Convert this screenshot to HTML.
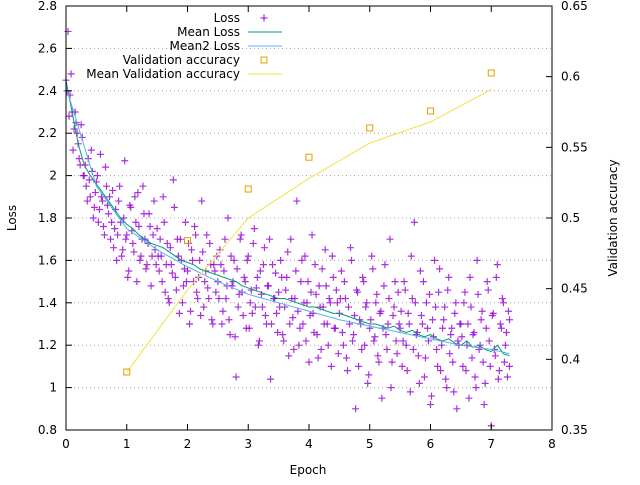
<!DOCTYPE html>
<html><head><meta charset="utf-8"><style>
body{margin:0;background:#fff}
svg text{font-family:"DejaVu Sans","Liberation Sans",sans-serif;font-size:12px;fill:#000}
</style></head><body>
<svg id="chart" width="640" height="480" xmlns="http://www.w3.org/2000/svg">
<g id="grid"></g>
<g id="series"></g>
<g id="axes"></g>
<text x="308" y="474" text-anchor="middle">Epoch</text>
<text transform="translate(16,218) rotate(-90)" text-anchor="middle">Loss</text>
<text transform="translate(617,218) rotate(-90)" text-anchor="middle">Validation accuracy</text>
<g id="legend"></g>
</svg>
<script>
const lossVals=[2.45,2.68,2.38,2.3,2.22,2.25,2.15,2.05,2.18,
2.0,1.95,2.08,1.9,2.02,1.85,1.97,1.78,2.1,1.88,1.72,1.95,
1.82,1.7,1.93,1.75,1.6,1.88,1.78,1.65,2.07,1.72,1.55,1.85,1.68,1.9,1.5,1.76,1.62,1.95,1.7,1.58,1.82,1.48,1.72,1.65,
1.75,1.55,1.62,1.9,1.45,1.68,1.4,1.58,1.98,1.52,1.7,1.35,1.6,1.48,1.78,1.55,1.3,1.65,1.5,1.72,1.42,1.6,1.88,1.38,1.55,1.47,1.68,1.32,1.58,1.45,
1.5,1.65,1.3,1.55,1.42,1.8,1.25,1.48,1.6,1.05,1.38,1.7,1.45,1.52,1.28,1.62,1.4,1.35,1.75,1.47,1.2,1.55,1.38,1.66,1.3,1.48,1.04,1.58,1.42,1.35,
1.45,1.6,1.25,1.38,1.52,1.15,1.7,1.33,1.42,1.88,1.2,1.5,1.3,1.62,1.4,1.12,1.45,1.35,1.58,1.25,1.48,1.18,1.38,1.65,1.3,1.42,1.1,1.52,1.28,1.4,
1.35,1.55,1.2,1.42,1.08,1.3,1.6,1.25,0.9,1.45,1.32,1.18,1.5,1.38,1.02,1.28,1.62,1.22,1.4,1.15,1.35,0.95,1.48,1.25,1.3,1.7,1.12,1.38,1.22,1.45,
1.28,1.1,1.5,1.2,1.35,0.98,1.42,1.78,1.25,1.15,1.55,1.3,1.05,1.4,1.22,0.92,1.32,1.6,1.18,1.45,1.08,1.28,1.38,1.0,1.52,1.25,1.12,1.35,0.9,1.2,
1.3,1.1,1.45,1.2,0.95,1.38,1.25,1.05,1.6,1.18,1.32,1.12,1.02,1.5,1.22,0.82,1.35,1.15,1.58,1.08,1.28,1.4,1.2,1.05,1.32];
const lossVals2=[2.4,2.28,2.48,2.12,2.3,2.2,2.08,2.24,2.0,
2.05,1.88,1.98,2.12,1.8,1.92,2.0,1.84,1.9,1.76,2.04,1.86,
1.9,1.78,1.66,1.84,1.72,1.95,1.62,1.8,1.7,1.52,1.86,1.74,1.64,1.78,1.92,1.6,1.7,1.82,1.56,1.68,1.76,1.62,1.88,1.58,
1.62,1.7,1.5,1.78,1.58,1.42,1.66,1.54,1.85,1.46,1.62,1.7,1.4,1.56,1.5,1.68,1.36,1.6,1.76,1.45,1.52,1.34,1.64,1.5,1.72,1.42,1.58,1.3,1.55,1.62,
1.42,1.58,1.36,1.7,1.48,1.32,1.62,1.5,1.24,1.56,1.44,1.72,1.34,1.5,1.6,1.28,1.46,1.68,1.38,1.52,1.22,1.44,1.58,1.34,1.48,1.7,1.3,1.42,1.54,1.26,
1.38,1.52,1.22,1.46,1.64,1.3,1.42,1.18,1.55,1.36,1.28,1.6,1.4,1.22,1.5,1.34,1.72,1.26,1.44,1.14,1.38,1.56,1.3,1.48,1.2,1.4,1.62,1.28,1.46,1.16,
1.42,1.26,1.5,1.14,1.38,1.66,1.22,1.34,1.46,1.1,1.3,1.52,1.2,1.4,1.06,1.32,1.56,1.24,1.44,1.12,1.36,1.28,1.58,1.18,1.42,1.0,1.34,1.5,1.16,1.3,
1.36,1.22,1.46,1.08,1.3,1.62,1.18,1.4,1.26,1.02,1.34,1.5,1.14,1.28,1.44,0.96,1.24,1.38,1.1,1.56,1.2,1.32,1.04,1.46,1.16,1.28,0.98,1.4,1.22,1.3,
1.24,1.4,1.08,1.3,1.52,1.14,1.26,1.0,1.44,1.2,1.36,0.92,1.28,1.46,1.1,1.34,1.18,1.52,1.04,1.3,1.42,1.12,1.26,1.36,1.1];
const meanLoss=[2.45,2.3,2.15,2.05,2.0,1.96,1.92,1.88,1.84,1.8,1.77,1.75,1.72,1.7,1.68,1.67,1.66,1.64,1.62,1.6,1.59,1.58,1.56,1.55,1.54,1.53,1.52,1.51,1.5,1.48,1.47,1.46,1.45,1.44,1.43,1.42,1.42,1.41,1.4,1.39,1.38,1.38,1.37,1.36,1.35,1.35,1.34,1.33,1.32,1.31,1.3,1.3,1.29,1.28,1.29,1.27,1.26,1.27,1.25,1.24,1.25,1.23,1.22,1.23,1.21,1.2,1.22,1.19,1.2,1.18,1.17,1.2,1.16,1.15];
const mean2Epochs=[0,0.5,1,1.5,2,2.5,3,3.5,4,4.5,5,5.5,6,6.5,7,7.3];
const mean2Loss=[2.42,1.95,1.75,1.65,1.57,1.5,1.44,1.4,1.36,1.32,1.29,1.26,1.23,1.2,1.18,1.16];
const valEpochs=[1,2,3,4,5,6,7];
const valAcc=[0.391,0.484,0.5205,0.543,0.5637,0.5757,0.6026];
const meanValAcc=[0.391,0.449,0.5,0.528,0.553,0.568,0.591];
const xTicks=[0,1,2,3,4,5,6,7,8];
const yTicks=[0.8,1,1.2,1.4,1.6,1.8,2,2.2,2.4,2.6,2.8];
const y2Ticks=[0.35,0.4,0.45,0.5,0.55,0.6,0.65];
const maxEpoch=7.3;

const L=66,R=552,T=6,B=430;
const X=v=>L+(v-0)/8*(R-L);
const Y=v=>B-(v-0.8)/2*(B-T);
const Y2=v=>B-(v-0.35)/0.3*(B-T);
const NS="http://www.w3.org/2000/svg";
function mk(tag,parent,attrs){const e=document.createElementNS(NS,tag);for(const k in attrs)e.setAttribute(k,attrs[k]);document.getElementById(parent).appendChild(e);return e;}

yTicks.forEach((v,i)=>{if(i===0||i===yTicks.length-1)return;
 const g=mk('line','grid',{x1:L,x2:R,y1:Y(v),y2:Y(v),stroke:'#a0a0a0','stroke-width':1,'stroke-dasharray':'1,3'});
 
 });

function drawScatter(arr,offset){
 const n=arr.length;
 arr.forEach((v,i)=>{const cx=X(Math.min(maxEpoch,(i+offset)*maxEpoch/(n-1))),cy=Y(v);
  const p=mk('path','series',{d:`M${cx-3.5},${cy}h7M${cx},${cy-3.5}v7`,stroke:'#9400d3','stroke-width':1.2,opacity:0.8});
  
  });
}
drawScatter(lossVals,0);
drawScatter(lossVals2,0.5);

let d=meanLoss.map((v,i)=>(i?'L':'M')+X(i*maxEpoch/(meanLoss.length-1))+','+Y(v)).join('');
const ml=mk('path','series',{d:d,fill:'none',stroke:'#009e73','stroke-width':1});


d=mean2Loss.map((v,i)=>(i?'L':'M')+X(mean2Epochs[i])+','+Y(v)).join('');
const m2=mk('path','series',{d:d,fill:'none',stroke:'#56b4e9','stroke-width':1});


d=meanValAcc.map((v,i)=>(i?'L':'M')+X(valEpochs[i])+','+Y2(v)).join('');
const mv=mk('path','series',{d:d,fill:'none',stroke:'#f0e442','stroke-width':1});


valAcc.forEach((v,i)=>{const r=mk('rect','series',{x:X(valEpochs[i])-3,y:Y2(v)-3,width:6,height:6,fill:'none',stroke:'#e69f00','stroke-width':1});
 
 });

const fr=mk('rect','axes',{x:L,y:T,width:R-L,height:B-T,fill:'none',stroke:'#000','stroke-width':1});


xTicks.forEach(v=>{const x=X(v);
 mk('path','axes',{d:`M${x},${B}v-6M${x},${T}v6`,stroke:'#000'});
 const t=mk('text','axes',{x:x,y:B+18,'text-anchor':'middle'});t.textContent=v;
 
 });
yTicks.forEach(v=>{const y=Y(v);
 mk('path','axes',{d:`M${L},${y}h6`,stroke:'#000'});
 const t=mk('text','axes',{x:L-9,y:y+4,'text-anchor':'end'});t.textContent=String(v);
 
 });
y2Ticks.forEach(v=>{const y=Y2(v);
 mk('path','axes',{d:`M${R},${y}h-6`,stroke:'#000'});
 const t=mk('text','axes',{x:R+9,y:y+4,'text-anchor':'start'});t.textContent=String(v);
 
 });

const leg=[['Loss','plus','#9400d3'],['Mean Loss','line','#009e73'],['Mean2 Loss','line','#56b4e9'],['Validation accuracy','box','#e69f00'],['Mean Validation accuracy','line','#f0e442']];
leg.forEach((e,i)=>{const y=18+i*14;
 const t=mk('text','legend',{x:240,y:y+4,'text-anchor':'end'});t.textContent=e[0];
 
 
 if(e[1]==='plus')mk('path','legend',{d:`M${264-3.5},${y}h7M264,${y-3.5}v7`,stroke:e[2]});
 else if(e[1]==='box')mk('rect','legend',{x:261,y:y-3,width:6,height:6,fill:'none',stroke:e[2]});
 else mk('line','legend',{x1:248,x2:282,y1:y,y2:y,stroke:e[2]});});
</script>
</body></html>
